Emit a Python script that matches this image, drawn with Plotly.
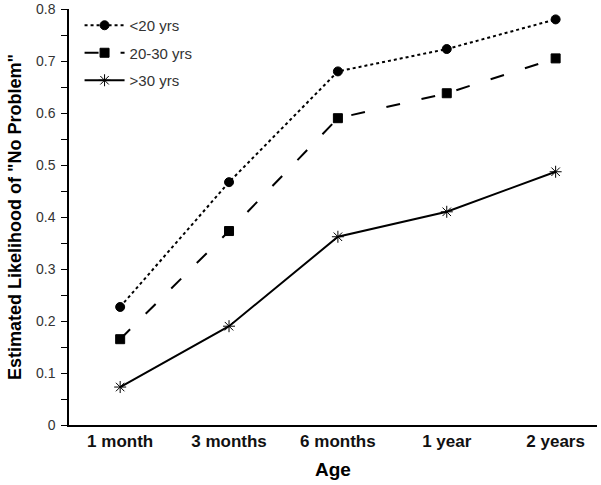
import plotly.graph_objs as go

ages = ["1 month", "3 months", "6 months", "1 year", "2 years"]
under20 = [0.227, 0.467, 0.680, 0.723, 0.780]
mid20_30 = [0.165, 0.373, 0.590, 0.638, 0.705]
over30 = [0.073, 0.190, 0.362, 0.410, 0.487]

series = [
    ("<20 yrs", under20, "circle", "dot", 9),
    ("20-30 yrs", mid20_30, "square", "14px,22px", 9),
    (">30 yrs", over30, "asterisk-open", "solid", 10),
]

fig = go.Figure()
for name, vals, sym, dash, size in series:
    fig.add_trace(go.Scatter(
        x=ages, y=vals, name=name, mode="lines+markers", legendgroup=name,
        line=dict(color="black", width=2, dash=dash),
        marker=dict(symbol=sym, size=size, color="black",
                    line=dict(color="black", width=1)),
    ))

fig.update_layout(
    width=601, height=485,
    margin=dict(l=69, r=4, t=9, b=60),
    plot_bgcolor="white", paper_bgcolor="white",
    font=dict(family="Arial, Liberation Sans", color="black"),
    showlegend=True,
    legend=dict(x=0.02, y=1.0, xanchor="left", yanchor="top",
                font=dict(size=15, color="#333"), bgcolor="rgba(0,0,0,0)",
                itemwidth=40, tracegroupgap=5),
    xaxis=dict(
        range=[-0.47, 4.38], showline=True, linecolor="black", linewidth=1.5,
        ticks="", showgrid=False, zeroline=False, automargin=False,
        tickfont=dict(size=17, weight="bold", color="#111"),
        title=dict(text="<b>Age</b>", font=dict(size=19), standoff=13),
    ),
    yaxis=dict(
        range=[0, 0.8], dtick=0.1, showline=True, linecolor="black", linewidth=1.5,
        ticks="outside", ticklen=6, tickwidth=1, tickcolor="black",
        minor=dict(dtick=0.05, ticks="outside", ticklen=6, tickcolor="black"),
        showgrid=False, zeroline=False, automargin=False,
        ticklabelstandoff=3,
        tickfont=dict(size=14, color="#333"),
        title=dict(text="<b>Estimated Likelihood of \"No Problem\"</b>",
                   font=dict(size=18), standoff=10),
    ),
)

fig.write_html("out.html", config={"displayModeBar": False},
               post_script="document.body.style.margin='0';")
